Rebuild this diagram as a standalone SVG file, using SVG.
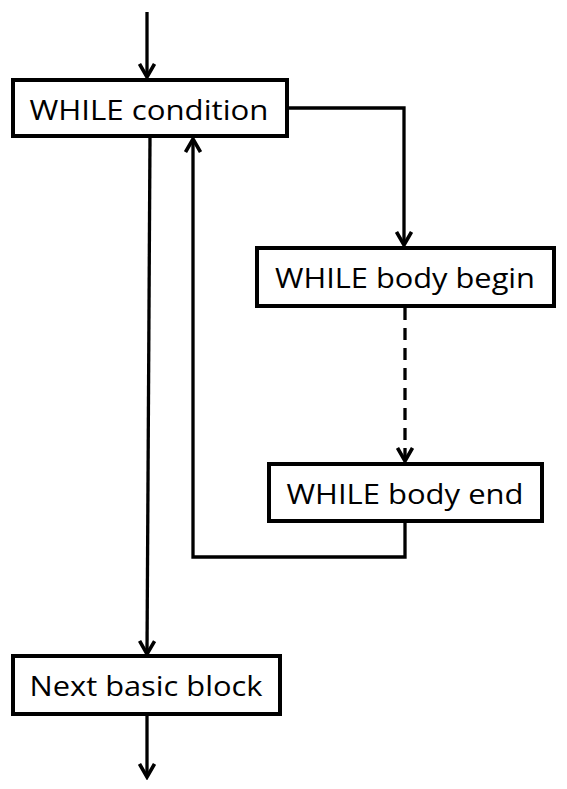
<svg xmlns="http://www.w3.org/2000/svg" width="567" height="789" viewBox="0 0 567 789">
<defs>
<marker id="arr" viewBox="0 0 18 18" refX="15" refY="9" markerWidth="18" markerHeight="18" markerUnits="userSpaceOnUse" orient="auto">
<polyline points="2,1.5 15,9 2,16.5" fill="none" stroke="#000" stroke-width="3.6"/>
</marker>
<style>
.box{fill:#fff;stroke:#000;stroke-width:4}
.lbl{font-family:"Open Sans","Liberation Sans",Arial,sans-serif;font-size:28px;fill:#000;text-anchor:middle}
.c{fill:none;stroke:#000;stroke-width:3.3}
.d{stroke-dasharray:12 8}
</style>
</defs>
<rect width="567" height="789" fill="#fff"/>
<g id="connectors">
<line class="c" x1="147" y1="12" x2="147" y2="77" marker-end="url(#arr)"/>
<polyline class="c" points="287,108 404,108 404,245" marker-end="url(#arr)"/>
<line class="c d" x1="405" y1="308" x2="405" y2="461" marker-end="url(#arr)"/>
<polyline class="c" points="405,522 405,557 193,557 193,139" marker-end="url(#arr)"/>
<line class="c" x1="150" y1="137" x2="147" y2="654" marker-end="url(#arr)"/>
<line class="c" x1="147" y1="714" x2="147" y2="777" marker-end="url(#arr)"/>
</g>
<g id="while-condition">
<rect class="box" x="13" y="80" width="274" height="56"/>
<text class="lbl" x="149" y="120" textLength="239" lengthAdjust="spacingAndGlyphs">WHILE condition</text>
</g>
<g id="while-body-begin">
<rect class="box" x="257" y="248" width="297" height="58"/>
<text class="lbl" x="405" y="288" textLength="260" lengthAdjust="spacingAndGlyphs">WHILE body begin</text>
</g>
<g id="while-body-end">
<rect class="box" x="269" y="464" width="273" height="57"/>
<text class="lbl" x="405" y="504" textLength="237" lengthAdjust="spacingAndGlyphs">WHILE body end</text>
</g>
<g id="next-basic-block">
<rect class="box" x="13" y="656" width="267" height="58"/>
<text class="lbl" x="146" y="696" textLength="233" lengthAdjust="spacingAndGlyphs">Next basic block</text>
</g>
</svg>
